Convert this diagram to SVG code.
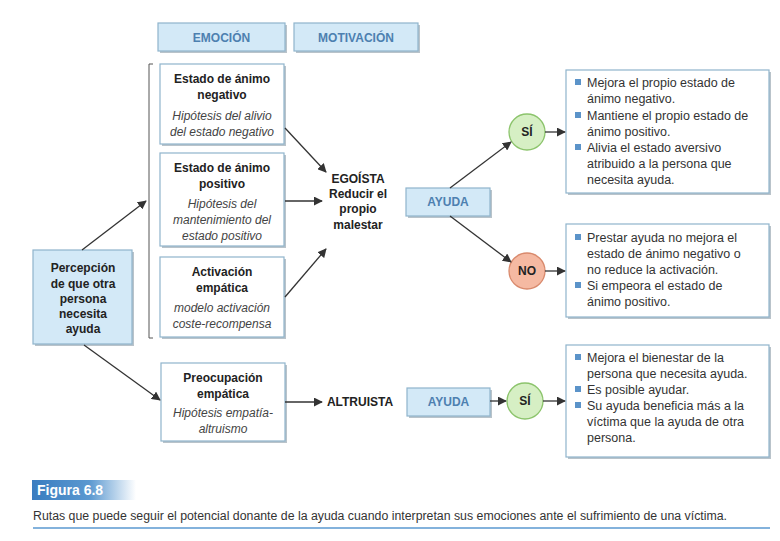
<svg xmlns="http://www.w3.org/2000/svg" width="780" height="541" viewBox="0 0 780 541">
<defs>
<marker id="ah" viewBox="0 0 10 10" refX="9" refY="5" markerWidth="9" markerHeight="9" markerUnits="userSpaceOnUse" orient="auto">
<path d="M0,0 L10,5 L0,10 z" fill="#333"/>
</marker>
<linearGradient id="fig" x1="0" y1="0" x2="1" y2="0">
<stop offset="0" stop-color="#3a7dc0"/>
<stop offset="0.55" stop-color="#5a98d0"/>
<stop offset="1" stop-color="#5a98d0" stop-opacity="0"/>
</linearGradient>
</defs>
<style>
.wb{fill:#fff;stroke:#8fb4cc;stroke-width:1.2}
.bb{fill:#d3e9f7;stroke:#8fb4cc;stroke-width:1.2}
.sh{fill:#b9c3ca}
.t{font-family:"Liberation Sans",Arial,sans-serif;font-size:12px;fill:#222;text-anchor:middle}
.b{font-weight:bold}
.i{font-style:italic;fill:#444}
.hb{font-family:"Liberation Sans",Arial,sans-serif;font-size:12px;font-weight:bold;fill:#4d80b0;text-anchor:middle}
.l{font-family:"Liberation Sans",Arial,sans-serif;font-size:12.5px;fill:#333}
.bul{fill:#5b93c9}
.c{stroke:#333;stroke-width:1.3;fill:none;marker-end:url(#ah)}
</style>
<rect width="780" height="541" fill="#fff"/>

<g id="header-emocion">
<rect class="sh" x="160" y="25" width="127" height="28"/>
<rect class="bb" x="158" y="23" width="127" height="28"/>
<text class="hb" x="221.5" y="42">EMOCIÓN</text>
</g>
<g id="header-motivacion">
<rect class="sh" x="296" y="25" width="124" height="28"/>
<rect class="bb" x="294" y="23" width="124" height="28"/>
<text class="hb" x="356" y="42">MOTIVACIÓN</text>
</g>

<g id="bracket">
<path d="M153,64 L149,64 L149,338 L153,338" fill="none" stroke="#555" stroke-width="1"/>
</g>

<g id="percepcion">
<rect class="sh" x="35" y="252" width="99" height="94"/>
<rect class="bb" x="33" y="250" width="99" height="94"/>
<text class="t b" x="83" y="272">Percepción</text>
<text class="t b" x="83" y="288">de que otra</text>
<text class="t b" x="83" y="303">persona</text>
<text class="t b" x="83" y="318">necesita</text>
<text class="t b" x="83" y="333">ayuda</text>
</g>

<g id="animo-negativo">
<rect class="sh" x="162" y="66" width="124" height="80"/>
<rect class="wb" x="160" y="64" width="124" height="80"/>
<text class="t b" x="222" y="83">Estado de ánimo</text>
<text class="t b" x="222" y="99">negativo</text>
<text class="t i" x="222" y="120">Hipótesis del alivio</text>
<text class="t i" x="222" y="136">del estado negativo</text>
</g>

<g id="animo-positivo">
<rect class="sh" x="162" y="155" width="124" height="93"/>
<rect class="wb" x="160" y="153" width="124" height="93"/>
<text class="t b" x="222" y="172">Estado de ánimo</text>
<text class="t b" x="222" y="188">positivo</text>
<text class="t i" x="222" y="208">Hipótesis del</text>
<text class="t i" x="222" y="224">mantenimiento del</text>
<text class="t i" x="222" y="240">estado positivo</text>
</g>

<g id="activacion">
<rect class="sh" x="162" y="259" width="124" height="80"/>
<rect class="wb" x="160" y="257" width="124" height="80"/>
<text class="t b" x="222" y="276">Activación</text>
<text class="t b" x="222" y="292">empática</text>
<text class="t i" x="222" y="312">modelo activación</text>
<text class="t i" x="222" y="328">coste-recompensa</text>
</g>

<g id="preocupacion">
<rect class="sh" x="163" y="365" width="124" height="78"/>
<rect class="wb" x="161" y="363" width="124" height="78"/>
<text class="t b" x="223" y="382">Preocupación</text>
<text class="t b" x="223" y="398">empática</text>
<text class="t i" x="223" y="417">Hipótesis empatía-</text>
<text class="t i" x="223" y="433">altruismo</text>
</g>

<g id="egoista">
<text class="t b" x="358" y="183">EGOÍSTA</text>
<text class="t b" x="358" y="198">Reducir el</text>
<text class="t b" x="358" y="213">propio</text>
<text class="t b" x="358" y="229">malestar</text>
</g>

<g id="altruista">
<text class="t b" x="360" y="406">ALTRUISTA</text>
</g>

<g id="ayuda-1">
<rect class="sh" x="408" y="190" width="84" height="28"/>
<rect class="bb" x="406" y="188" width="84" height="28"/>
<text class="hb" x="448" y="206">AYUDA</text>
</g>
<g id="ayuda-2">
<rect class="sh" x="409" y="390" width="83" height="28"/>
<rect class="bb" x="407" y="388" width="83" height="28"/>
<text class="hb" x="448.5" y="406">AYUDA</text>
</g>

<g id="si-1">
<circle cx="527" cy="132" r="18" fill="#d6efc4" stroke="#8cc46c" stroke-width="1.3"/>
<text class="t b" x="527" y="136">SÍ</text>
</g>
<g id="no">
<circle cx="527" cy="271" r="18" fill="#f5b9a2" stroke="#d98a6d" stroke-width="1.3"/>
<text class="t b" x="527" y="275">NO</text>
</g>
<g id="si-2">
<circle cx="525" cy="401" r="18" fill="#d6efc4" stroke="#8cc46c" stroke-width="1.3"/>
<text class="t b" x="525" y="405">SÍ</text>
</g>

<g id="result-si-1">
<rect class="sh" x="568" y="72" width="203" height="123"/>
<rect class="wb" x="566" y="70" width="203" height="123"/>
<rect class="bul" x="575" y="79" width="6" height="6"/>
<text class="l" x="587" y="87">Mejora el propio estado de</text>
<text class="l" x="587" y="103">ánimo negativo.</text>
<rect class="bul" x="575" y="112" width="6" height="6"/>
<text class="l" x="587" y="120">Mantiene el propio estado de</text>
<text class="l" x="587" y="136">ánimo positivo.</text>
<rect class="bul" x="575" y="144" width="6" height="6"/>
<text class="l" x="587" y="152">Alivia el estado aversivo</text>
<text class="l" x="587" y="168">atribuido a la persona que</text>
<text class="l" x="587" y="184">necesita ayuda.</text>
</g>

<g id="result-no">
<rect class="sh" x="568" y="226" width="203" height="93"/>
<rect class="wb" x="566" y="224" width="203" height="93"/>
<rect class="bul" x="575" y="234" width="6" height="6"/>
<text class="l" x="587" y="242">Prestar ayuda no mejora el</text>
<text class="l" x="587" y="258">estado de ánimo negativo o</text>
<text class="l" x="587" y="274">no reduce la activación.</text>
<rect class="bul" x="575" y="282" width="6" height="6"/>
<text class="l" x="587" y="290">Si empeora el estado de</text>
<text class="l" x="587" y="306">ánimo positivo.</text>
</g>

<g id="result-si-2">
<rect class="sh" x="568" y="347" width="203" height="112"/>
<rect class="wb" x="566" y="345" width="203" height="112"/>
<rect class="bul" x="575" y="354" width="6" height="6"/>
<text class="l" x="587" y="362">Mejora el bienestar de la</text>
<text class="l" x="587" y="378">persona que necesita ayuda.</text>
<rect class="bul" x="575" y="386" width="6" height="6"/>
<text class="l" x="587" y="394">Es posible ayudar.</text>
<rect class="bul" x="575" y="402" width="6" height="6"/>
<text class="l" x="587" y="410">Su ayuda beneficia más a la</text>
<text class="l" x="587" y="426">víctima que la ayuda de otra</text>
<text class="l" x="587" y="442">persona.</text>
</g>

<g id="connectors">
<line class="c" x1="82" y1="250" x2="146" y2="201"/>
<line class="c" x1="84" y1="345" x2="160" y2="400"/>
<line class="c" x1="285" y1="128" x2="326" y2="172"/>
<line class="c" x1="285" y1="201" x2="322" y2="201"/>
<line class="c" x1="285" y1="297" x2="326" y2="249"/>
<line class="c" x1="450" y1="188" x2="511" y2="142"/>
<line class="c" x1="450" y1="216" x2="511" y2="262"/>
<line class="c" x1="545" y1="132" x2="565" y2="132"/>
<line class="c" x1="545" y1="271" x2="565" y2="271"/>
<line class="c" x1="285" y1="402" x2="322" y2="402"/>
<line class="c" x1="490" y1="401" x2="506" y2="401"/>
<line class="c" x1="543" y1="401" x2="565" y2="401"/>
</g>

<g id="caption">
<rect x="32" y="480" width="104" height="20" fill="url(#fig)"/>
<text x="37" y="495" font-family="Liberation Sans Narrow,Liberation Sans,Arial,sans-serif" font-size="14" font-weight="bold" fill="#fff">Figura 6.8</text>
<text x="33" y="520" font-family="Liberation Sans Narrow,Liberation Sans,Arial,sans-serif" font-size="12" fill="#333" textLength="694" lengthAdjust="spacingAndGlyphs">Rutas que puede seguir el potencial donante de la ayuda cuando interpretan sus emociones ante el sufrimiento de una víctima.</text>
<line x1="33" y1="528" x2="770" y2="528" stroke="#5a98d0" stroke-width="1.5"/>
</g>
</svg>
